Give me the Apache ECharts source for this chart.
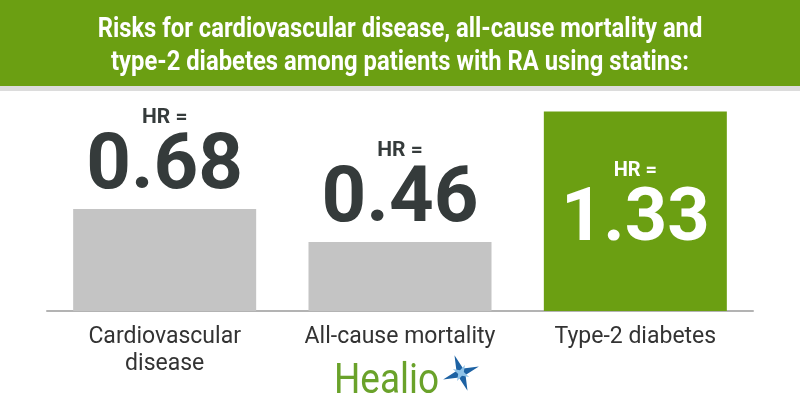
<!DOCTYPE html>
<html>
<head>
<meta charset="utf-8">
<script src="https://cdn.jsdelivr.net/npm/echarts@6/dist/echarts.min.js"></script>
<style>
html,body{margin:0;padding:0;background:#fff;}
#chart{width:800px;height:420px;}
</style>
</head>
<body>
<div id="chart"></div>
<script>
const titleLines = [
  'Risks for cardiovascular disease, all-cause mortality and',
  'type-2 diabetes among patients with RA using statins:'
];
const categories = ['Cardiovascular\ndisease', 'All-cause mortality', 'Type-2 diabetes'];
const hrValues = [0.68, 0.46, 1.33];
const hrPrefix = 'HR =';
const brand = 'Healio';

const GREEN = '#6b9f12';
const GRAY = '#c4c4c4';
const DARK = '#353b3b';
const FONT = 'Roboto';

const topLabel = {
  show: true,
  position: 'top',
  distance: 9,
  formatter: p => '{a|' + hrPrefix + '}\n{b|' + p.value.toFixed(2) + '}',
  rich: {
    a: {fontFamily: FONT, fontSize: 21, fontWeight: 'bold', color: DARK, lineHeight: 37},
    b: {fontFamily: FONT, fontSize: 78, fontWeight: 'bold', color: DARK, lineHeight: 64}
  }
};
const insideLabel = {
  show: true,
  position: 'insideTop',
  distance: 42,
  formatter: p => '{a|' + hrPrefix + '}\n{b|' + p.value.toFixed(2) + '}',
  rich: {
    a: {fontFamily: FONT, fontSize: 20, fontWeight: 'bold', color: '#fff', lineHeight: 35},
    b: {fontFamily: FONT, fontSize: 74, fontWeight: 'bold', color: '#fff', lineHeight: 66}
  }
};

function starPoints(cx, cy, rOut, rIn, n, rot) {
  const pts = [];
  for (let i = 0; i < n * 2; i++) {
    const r = i % 2 === 0 ? rOut : rIn;
    const a = rot + i * Math.PI / n;
    pts.push([cx + r * Math.cos(a), cy + r * Math.sin(a)]);
  }
  return pts;
}

const chart = echarts.init(document.getElementById('chart'));
chart.setOption({
  backgroundColor: '#ffffff',
  animation: false,
  grid: {left: 47, right: 47, top: 101, bottom: 109},
  xAxis: {
    type: 'category',
    data: categories,
    axisTick: {show: false},
    axisLine: {lineStyle: {color: '#b3b3b3', width: 2}},
    axisLabel: {interval: 0, fontFamily: FONT, fontSize: 23, color: '#333', lineHeight: 27, margin: 13}
  },
  yAxis: {type: 'value', min: 0, max: 1.4, show: false, splitLine: {show: false}},
  series: [{
    type: 'bar',
    barWidth: 183,
    data: hrValues.map(v => ({
      value: v,
      itemStyle: {color: v > 1 ? GREEN : GRAY},
      label: v > 1 ? insideLabel : topLabel
    }))
  }],
  graphic: [
    {type: 'rect', shape: {x: 0, y: 0, width: 800, height: 86}, style: {fill: GREEN}, z: -1},
    {type: 'rect', shape: {x: 0, y: 86, width: 800, height: 5}, style: {fill: '#dcdcdc'}, z: -1},
    {type: 'text', x: 400, y: 30, scaleX: 0.85,
     style: {text: titleLines[0], fill: '#fff', font: 'bold 28px Roboto', textAlign: 'center', textVerticalAlign: 'middle'}},
    {type: 'text', x: 400, y: 63, scaleX: 0.85,
     style: {text: titleLines[1], fill: '#fff', font: 'bold 28px Roboto', textAlign: 'center', textVerticalAlign: 'middle'}},
    {type: 'text', x: 334, y: 382, scaleX: 0.88,
     style: {text: brand, fill: '#6aa22a', font: '42px Roboto', textAlign: 'left', textVerticalAlign: 'middle'}},
    {type: 'polygon', shape: {points: starPoints(461, 373, 19, 5, 4, -0.35)}, style: {fill: '#1d62a3'}},
    {type: 'polygon', shape: {points: starPoints(461, 373, 9, 3, 4, 0.45)}, style: {fill: '#8fc3e8'}}
  ]
});
</script>
</body>
</html>
